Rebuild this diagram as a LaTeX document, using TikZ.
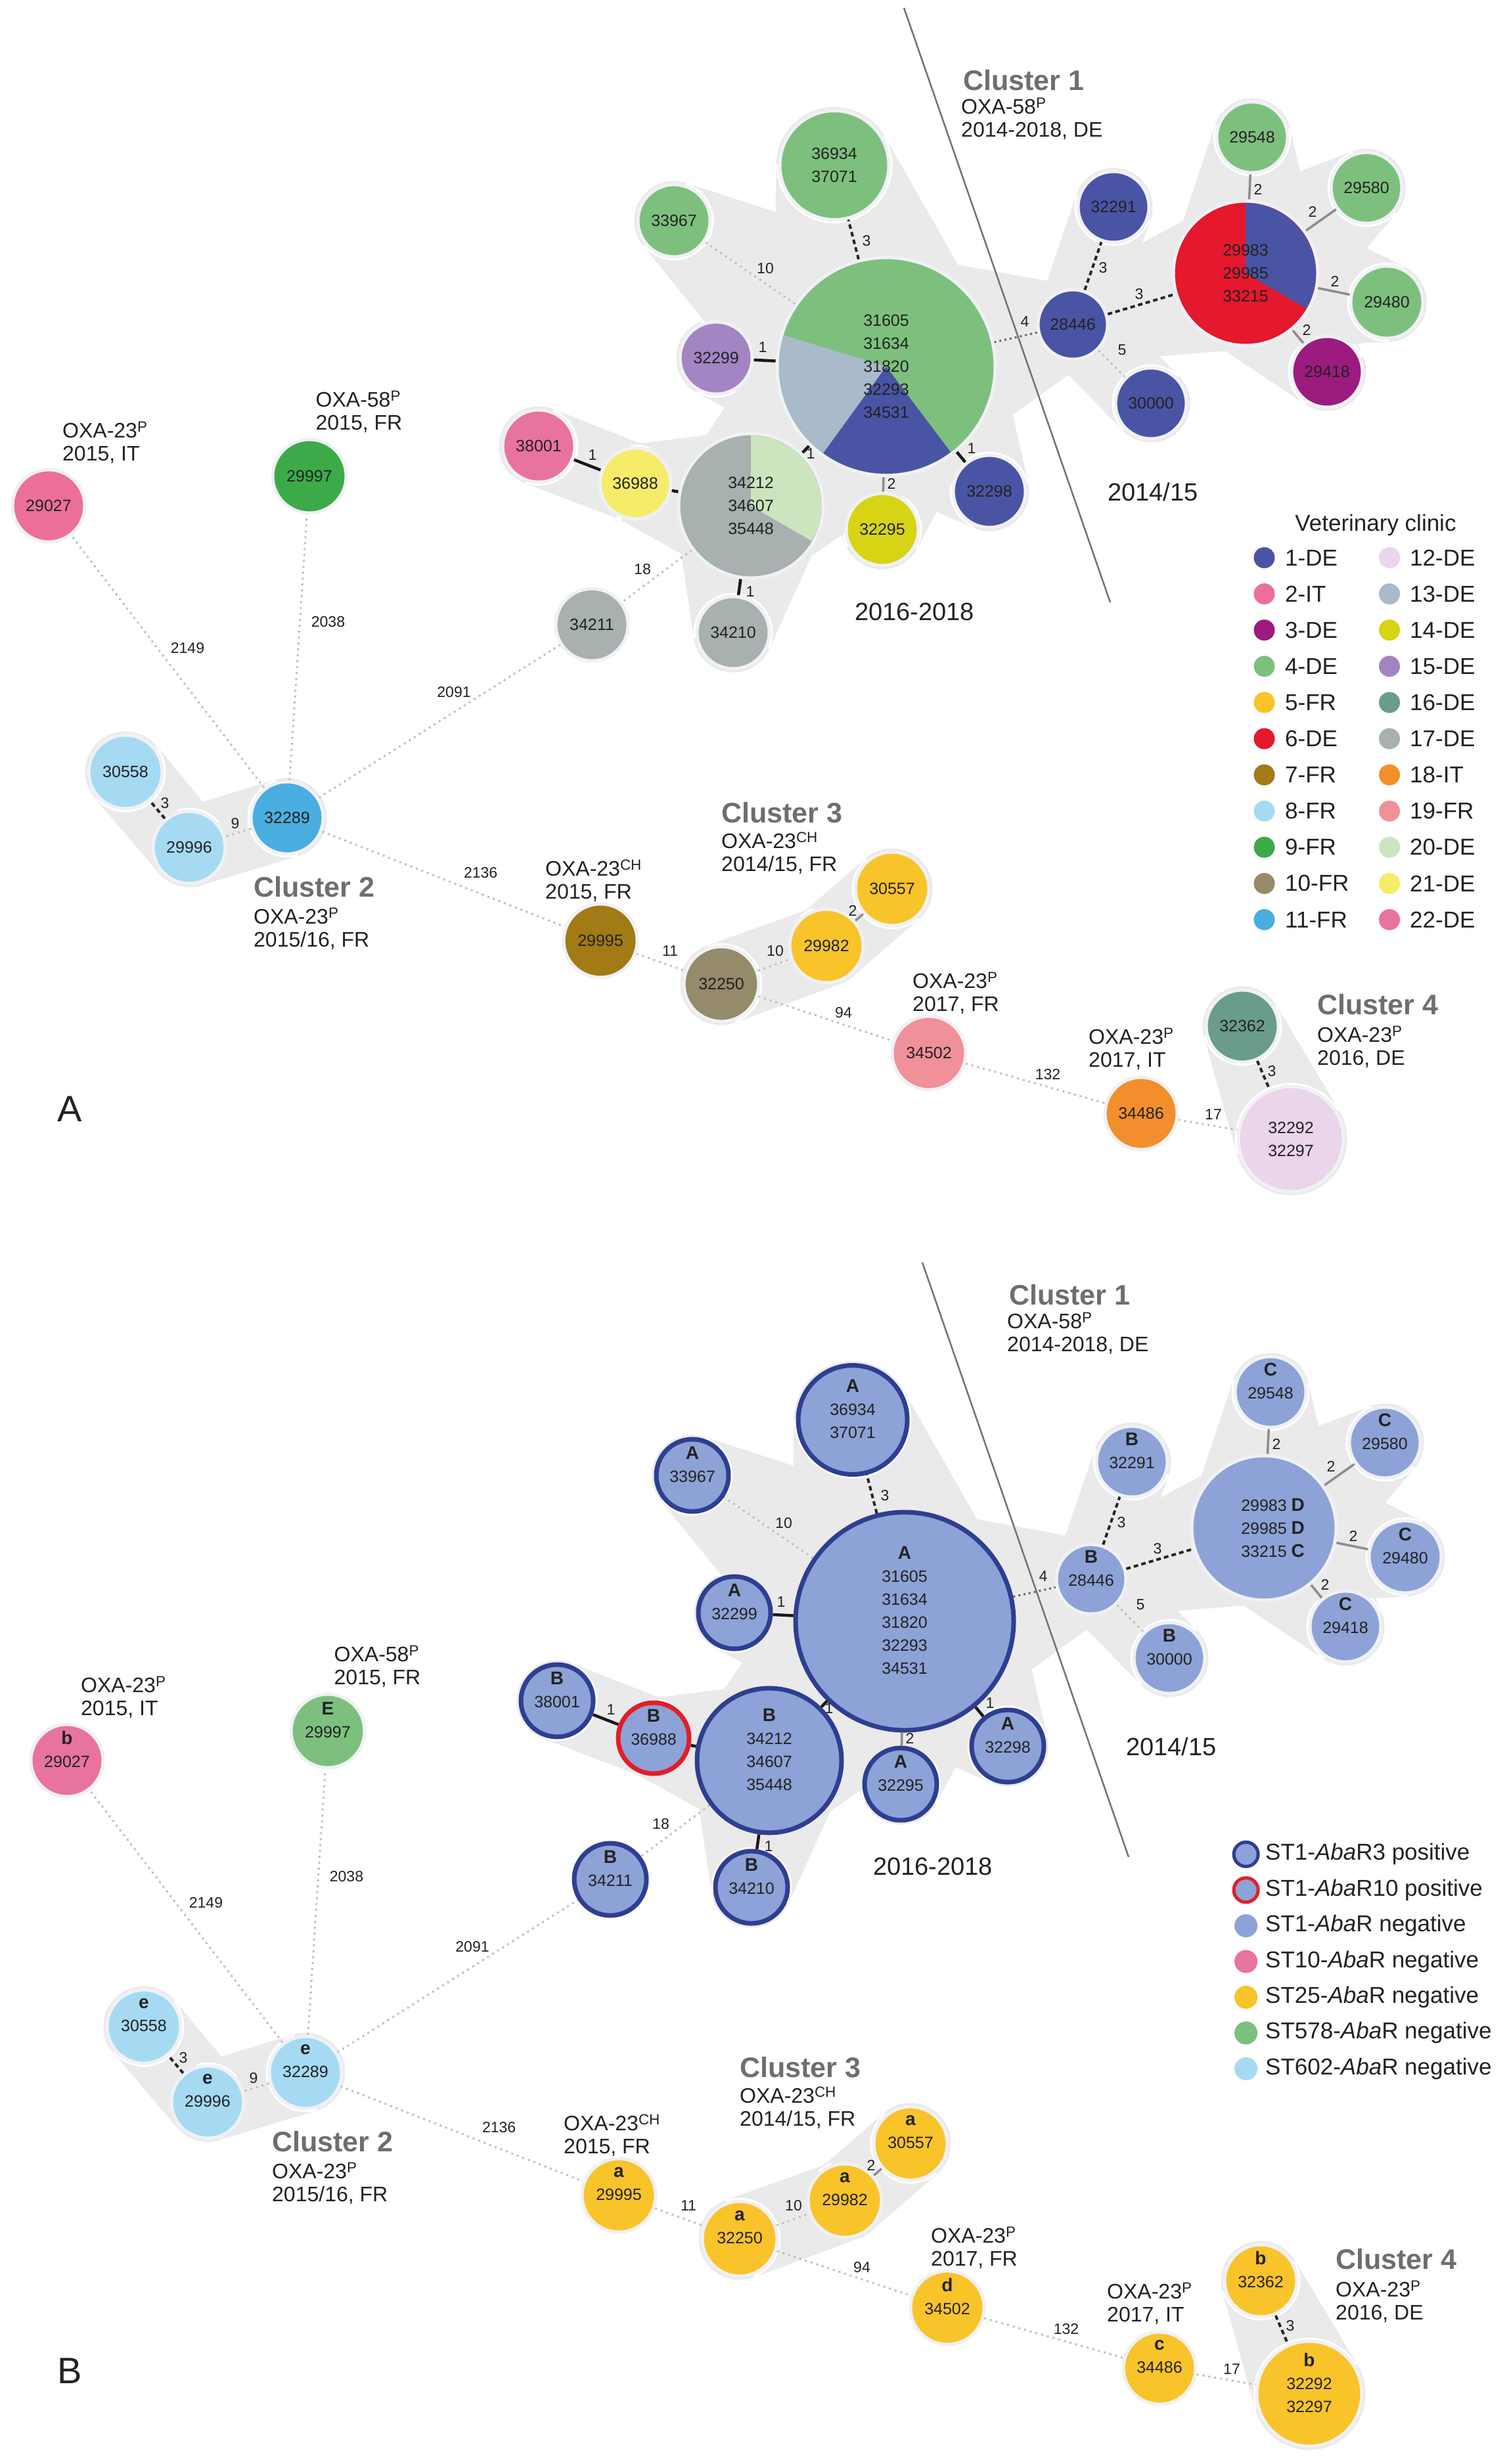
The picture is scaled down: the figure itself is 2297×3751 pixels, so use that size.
\documentclass[tikz,border=0pt]{standalone}
\usepackage{fontspec}
\setmainfont{Liberation Sans}
\usetikzlibrary{calc}
\pgfdeclarelayer{bg}
\pgfdeclarelayer{hull}
\pgfdeclarelayer{edges}
\pgfdeclarelayer{disks}
\pgfdeclarelayer{pies}
\pgfsetlayers{bg,hull,edges,disks,pies,main}

\definecolor{c1}{RGB}{74,84,165}
\definecolor{c2}{RGB}{236,111,154}
\definecolor{c3}{RGB}{155,27,127}
\definecolor{c4}{RGB}{125,192,126}
\definecolor{c5}{RGB}{249,195,42}
\definecolor{c6}{RGB}{229,24,45}
\definecolor{c7}{RGB}{162,122,22}
\definecolor{c8}{RGB}{166,218,243}
\definecolor{c9}{RGB}{61,170,74}
\definecolor{c10}{RGB}{149,138,106}
\definecolor{c11}{RGB}{74,174,224}
\definecolor{c12}{RGB}{234,213,234}
\definecolor{c13}{RGB}{169,186,203}
\definecolor{c14}{RGB}{214,212,20}
\definecolor{c15}{RGB}{162,133,194}
\definecolor{c16}{RGB}{106,156,138}
\definecolor{c17}{RGB}{168,176,176}
\definecolor{c18}{RGB}{242,143,44}
\definecolor{c19}{RGB}{240,144,153}
\definecolor{c20}{RGB}{205,229,190}
\definecolor{c21}{RGB}{246,236,106}
\definecolor{c22}{RGB}{232,115,159}
\definecolor{stone}{RGB}{141,162,214}
\definecolor{darkb}{RGB}{46,62,145}
\definecolor{redb}{RGB}{226,30,40}
\definecolor{halo}{RGB}{240,241,245}
\definecolor{hullc}{RGB}{234,234,234}
\definecolor{clgray}{RGB}{110,110,110}
\definecolor{txt}{RGB}{34,34,34}

\newcommand\numfont{\fontsize{25}{35}\selectfont}
\newcommand\letfont{\fontsize{28}{35}\selectfont\bfseries}
\newcommand\pfx{A}
\newcommand\cldx{0}
\newcommand\cldy{0}
\newcommand\NtxA[2]{#2}
\newcommand\NtxB[2]{{\letfont #1}\\#2}
\newcommand\XletA[1]{}
\newcommand\XletB[1]{\rlap{\ {\letfont #1}}}
\newcommand\Ntx{}
\newcommand\Xlet{}

\tikzset{
 disk/.style={circle, inner sep=0pt, draw=halo, line width=5pt},
 ntext/.style={font=\numfont, align=center, inner sep=0pt, text=txt},
 cancel/.style={},
 el/.style={font=\fontsize{23}{26}\selectfont, inner sep=0pt, text=txt},
 ann/.style={font=\fontsize{32}{35}\selectfont, align=left, inner sep=0pt, anchor=west, text=txt},
 cl/.style={font=\fontsize{43}{48}\selectfont\bfseries, inner sep=0pt, anchor=west, text=clgray},
 yr/.style={font=\fontsize{38}{42}\selectfont, inner sep=0pt, text=txt},
 eone/.style={draw=black!90, line width=4.5pt},
 etwo/.style={draw=black!45, line width=3.5pt},
 ethree/.style={draw=black!85, line width=4pt, dash pattern=on 7pt off 5pt},
 efour/.style={draw=black!60, line width=3pt, dash pattern=on 3pt off 5pt},
 efar/.style={draw=black!25, line width=3pt, dash pattern=on 3pt off 6pt},
 divider/.style={draw=black!55, line width=2.5pt},
 ldot/.style={circle, inner sep=0pt, minimum size=32pt},
 lgt/.style={font=\fontsize{35}{40}\selectfont, inner sep=0pt, anchor=west, text=txt},
 pos3/.style={fill=stone, draw=darkb, line width=7pt},
 pos10/.style={fill=stone, draw=redb, line width=7pt},
 neg1/.style={fill=stone},
}

% node: [text opts]{id}{x}{y}{r}{text}
\newcommand\Nd[6][]{%
 \begin{pgfonlayer}{disks}
  \node[disk, minimum size={2*#5pt}, s#2] (\pfx#2) at (#3,#4) {};
 \end{pgfonlayer}
 \node[ntext, #1] (\pfx#2t) at (\pfx#2.center) {#6};
}
\newcommand\Ed[3]{\begin{pgfonlayer}{edges}\draw[#1] (\pfx#2) -- (\pfx#3);\end{pgfonlayer}}
\newcommand\Lb[4]{\node[el] (\pfx#1) at (#2,#3) {#4};}

\newcommand\hp[2]{%
 \fill[hullc] let \p1=(#1.center), \p2=(#2.center), \p3=(#1.east), \p4=(#2.east),
  \n1={\x3-\x1+3pt}, \n2={\x4-\x2+3pt},
  \n3={veclen(\x2-\x1,\y2-\y1)}, \n4={atan2(\y2-\y1,\x2-\x1)},
  \n5={acos((\n1-\n2)/\n3)} in
  ({\x1+\n1*cos(\n4+\n5)},{\y1+\n1*sin(\n4+\n5)}) --
  ({\x2+\n2*cos(\n4+\n5)},{\y2+\n2*sin(\n4+\n5)}) --
  ({\x2+\n2*cos(\n4-\n5)},{\y2+\n2*sin(\n4-\n5)}) --
  ({\x1+\n1*cos(\n4-\n5)},{\y1+\n1*sin(\n4-\n5)}) -- cycle
  (\p1) circle[radius=\n1] (\p2) circle[radius=\n2];}

\newcommand\network{%
 \draw[divider] (1376,12) -- (1690,917);
 \Nd{31605}{1349}{558}{166}{\Ntx{A}{31605\\31634\\31820\\32293\\34531}}
 \Nd{36934}{1270}{251.5}{83}{\Ntx{A}{36934\\37071}}
 \Nd{33967}{1026}{336}{55}{\Ntx{A}{33967}}
 \Nd{32299}{1090}{545}{55}{\Ntx{A}{32299}}
 \Nd{38001}{820}{679}{55}{\Ntx{B}{38001}}
 \Nd{36988}{967}{736}{54}{\Ntx{B}{36988}}
 \Nd{34212}{1143}{770}{110}{\Ntx{B}{34212\\34607\\35448}}
 \Nd{32295}{1343}{806}{55}{\Ntx{A}{32295}}
 \Nd{32298}{1506}{748}{55}{\Ntx{A}{32298}}
 \Nd{34211}{901}{951}{55}{\Ntx{B}{34211}}
 \Nd{34210}{1116}{963}{55}{\Ntx{B}{34210}}
 \Nd{32291}{1695}{315}{54}{\Ntx{B}{32291}}
 \Nd{28446}{1633}{494}{53}{\Ntx{B}{28446}}
 \Nd{30000}{1752}{614}{54}{\Ntx{B}{30000}}
 \Nd[cancel]{29983}{1896}{416}{110}{29983\Xlet{D}\\29985\Xlet{D}\\33215\Xlet{C}}
 \Nd{29548}{1906}{209}{54}{\Ntx{C}{29548}}
 \Nd{29580}{2080}{286}{54}{\Ntx{C}{29580}}
 \Nd{29480}{2111}{460}{55}{\Ntx{C}{29480}}
 \Nd{29418}{2020}{566}{54}{\Ntx{C}{29418}}
 \Nd{29027}{74}{770}{55}{\Ntx{b}{29027}}
 \Nd{29997}{471}{725}{56}{\Ntx{E}{29997}}
 \Nd{32289}{437}{1245}{55}{\Ntx{e}{32289}}
 \Nd{30558}{191}{1175}{56}{\Ntx{e}{30558}}
 \Nd{29996}{288}{1290}{55}{\Ntx{e}{29996}}
 \Nd{29995}{914}{1432}{56}{\Ntx{a}{29995}}
 \Nd{32250}{1098}{1498}{57}{\Ntx{a}{32250}}
 \Nd{29982}{1258}{1440}{56}{\Ntx{a}{29982}}
 \Nd{30557}{1358}{1353}{56}{\Ntx{a}{30557}}
 \Nd{34502}{1414}{1603}{56}{\Ntx{d}{34502}}
 \Nd{34486}{1737}{1695}{55}{\Ntx{c}{34486}}
 \Nd{32362}{1891}{1562}{55}{\Ntx{b}{32362}}
 \Nd{32292}{1965}{1734}{80}{\Ntx{b}{32292\\32297}}
 % edges
 \Ed{ethree}{31605}{36934}
 \Ed{efar}{31605}{33967}
 \Ed{eone}{31605}{32299}
 \Ed{eone}{31605}{34212}
 \Ed{etwo}{31605}{32295}
 \Ed{eone}{31605}{32298}
 \Ed{efour}{31605}{28446}
 \Ed{eone}{34212}{36988}
 \Ed{eone}{36988}{38001}
 \Ed{eone}{34212}{34210}
 \Ed{efar}{34212}{34211}
 \Ed{ethree}{28446}{32291}
 \Ed{ethree}{28446}{29983}
 \Ed{efar}{28446}{30000}
 \Ed{etwo}{29983}{29548}
 \Ed{etwo}{29983}{29580}
 \Ed{etwo}{29983}{29480}
 \Ed{etwo}{29983}{29418}
 \Ed{efar}{32289}{29027}
 \Ed{efar}{32289}{29997}
 \Ed{efar}{32289}{34211}
 \Ed{efar}{32289}{29996}
 \Ed{ethree}{29996}{30558}
 \Ed{efar}{32289}{29995}
 \Ed{efar}{29995}{32250}
 \Ed{efar}{32250}{29982}
 \Ed{etwo}{29982}{30557}
 \Ed{efar}{32250}{34502}
 \Ed{efar}{34502}{34486}
 \Ed{efar}{34486}{32292}
 \Ed{ethree}{32362}{32292}
 % edge labels
 \Lb{l1}{1319}{367}{3}
 \Lb{l2}{1165}{409}{10}
 \Lb{l3}{1161}{529}{1}
 \Lb{l4}{1234}{691}{1}
 \Lb{l5}{1357}{736}{2}
 \Lb{l6}{1479}{683}{1}
 \Lb{l7}{1560}{490}{4}
 \Lb{l8}{902}{693}{1}
 \Lb{l9}{1142}{901}{1}
 \Lb{l10}{978}{867}{18}
 \Lb{l11}{1679}{408}{3}
 \Lb{l12}{1734}{448}{3}
 \Lb{l13}{1708}{533}{5}
 \Lb{l14}{1915}{288}{2}
 \Lb{l15}{1998}{322}{2}
 \Lb{l16}{2032}{428}{2}
 \Lb{l17}{1989}{502}{2}
 \Lb{l18}{285.5}{987}{2149}
 \Lb{l19}{499.5}{947}{2038}
 \Lb{l20}{691}{1054}{2091}
 \Lb{l21}{358}{1253.5}{9}
 \Lb{l22}{251}{1223}{3}
 \Lb{l23}{731.6}{1329}{2136}
 \Lb{l24}{1020}{1448}{11}
 \Lb{l25}{1180}{1448}{10}
 \Lb{l26}{1298}{1386}{2}
 \Lb{l27}{1284}{1542}{94}
 \Lb{l28}{1595}{1636}{132}
 \Lb{l29}{1847}{1697}{17}
 \Lb{l30}{1936}{1631}{3}
 % annotations
 \node[ann] (\pfx n1) at (95,673.5) {OXA-23\textsuperscript{P}\\2015, IT};
 \node[ann] (\pfx n2) at (480.5,626.5) {OXA-58\textsuperscript{P}\\2015, FR};
 \node[ann] (\pfx n3) at (830,1341) {OXA-23\textsuperscript{CH}\\2015, FR};
 \node[ann] (\pfx n4) at (1389,1512) {OXA-23\textsuperscript{P}\\2017, FR};
 \node[ann] (\pfx n5) at (1657,1596.5) {OXA-23\textsuperscript{P}\\2017, IT};
 \node[cl] (\pfx c1) at ({1466+\cldx},{122+\cldy}) {Cluster 1};
 \node[ann] (\pfx c1s) at ({1463+\cldx},{181+\cldy}) {OXA-58\textsuperscript{P}\\2014-2018, DE};
 \node[cl] (\pfx c2) at (386,1350) {Cluster 2};
 \node[ann] (\pfx c2s) at (386,1414) {OXA-23\textsuperscript{P}\\2015/16, FR};
 \node[cl] (\pfx c3) at (1098,1237) {Cluster 3};
 \node[ann] (\pfx c3s) at (1098,1299) {OXA-23\textsuperscript{CH}\\2014/15, FR};
 \node[cl] (\pfx c4) at (2005,1529) {Cluster 4};
 \node[ann] (\pfx c4s) at (2005,1593.5) {OXA-23\textsuperscript{P}\\2016, DE};
 \node[yr] (\pfx y1) at (1392,931) {2016-2018};
 \node[yr] (\pfx y2) at (1755,749) {2014/15};
}

\begin{document}
\begin{tikzpicture}[x=1pt,y=-1pt]
\useasboundingbox (0,0) rectangle (2297,3751);
\begin{pgfonlayer}{bg}
 \fill[white] (0,0) rectangle (2297,3751);
\end{pgfonlayer}

% ---------------- Panel A ----------------
\begin{scope}
 \renewcommand\pfx{A}
 \let\Ntx\NtxA
 \let\Xlet\XletA
 \tikzset{
  s31605/.style={fill=c4}, s36934/.style={fill=c4}, s33967/.style={fill=c4},
  s32299/.style={fill=c15}, s38001/.style={fill=c22}, s36988/.style={fill=c21},
  s34212/.style={fill=c17}, s32295/.style={fill=c14}, s32298/.style={fill=c1},
  s34211/.style={fill=c17}, s34210/.style={fill=c17}, s32291/.style={fill=c1},
  s28446/.style={fill=c1}, s30000/.style={fill=c1}, s29983/.style={fill=c6},
  s29548/.style={fill=c4}, s29580/.style={fill=c4}, s29480/.style={fill=c4},
  s29418/.style={fill=c3}, s29027/.style={fill=c2}, s29997/.style={fill=c9},
  s32289/.style={fill=c11}, s30558/.style={fill=c8}, s29996/.style={fill=c8},
  s29995/.style={fill=c7}, s32250/.style={fill=c10}, s29982/.style={fill=c5},
  s30557/.style={fill=c5}, s34502/.style={fill=c19}, s34486/.style={fill=c18},
  s32362/.style={fill=c16}, s32292/.style={fill=c12}}
 \network
 \begin{pgfonlayer}{pies}
  \fill[c13] (A31605.center) -- ++(163:163pt) arc[start angle=163, end angle=234, radius=163pt] -- cycle;
  \fill[c1] (A31605.center) -- ++(234:163pt) arc[start angle=234, end angle=307, radius=163pt] -- cycle;
  \fill[c20] (A34212.center) -- ++(-30:107pt) arc[start angle=-30, end angle=90, radius=107pt] -- cycle;
  \fill[c1] (A29983.center) -- ++(-30:107pt) arc[start angle=-30, end angle=90, radius=107pt] -- cycle;
 \end{pgfonlayer}
\end{scope}

% ---------------- Panel B ----------------
\begin{scope}[shift={(28,1910)}]
 \renewcommand\pfx{B}
 \renewcommand\cldx{42}
 \renewcommand\cldy{-61}
 \let\Ntx\NtxB
 \let\Xlet\XletB
 \tikzset{ntext/.append style={yshift=17pt}, cancel/.style={yshift=-17pt},
  s31605/.style={pos3}, s36934/.style={pos3}, s33967/.style={pos3},
  s32299/.style={pos3}, s38001/.style={pos3}, s36988/.style={pos10},
  s34212/.style={pos3}, s32295/.style={pos3}, s32298/.style={pos3},
  s34211/.style={pos3}, s34210/.style={pos3}, s32291/.style={neg1},
  s28446/.style={neg1}, s30000/.style={neg1}, s29983/.style={neg1},
  s29548/.style={neg1}, s29580/.style={neg1}, s29480/.style={neg1},
  s29418/.style={neg1}, s29027/.style={fill=c22}, s29997/.style={fill=c4},
  s32289/.style={fill=c8}, s30558/.style={fill=c8}, s29996/.style={fill=c8},
  s29995/.style={fill=c5}, s32250/.style={fill=c5}, s29982/.style={fill=c5},
  s30557/.style={fill=c5}, s34502/.style={fill=c5}, s34486/.style={fill=c5},
  s32362/.style={fill=c5}, s32292/.style={fill=c5}}
 \network
\end{scope}

% ---------------- Hulls ----------------
\begin{pgfonlayer}{hull}
\foreach \q in {A,B}{
 \foreach \a/\b in {31605/36934,31605/33967,31605/32299,31605/34212,31605/32295,31605/32298,
   34212/36988,36988/38001,34212/34210,31605/28446,28446/32291,28446/30000,28446/29983,
   29983/29548,29983/29580,29983/29480,29983/29418,
   30558/29996,29996/32289,32250/29982,29982/30557,32362/32292}{
  \hp{\q\a}{\q\b}
 }
}
\end{pgfonlayer}

% ---------------- Legend A ----------------
\node[font=\fontsize{35}{40}\selectfont, inner sep=0pt, text=txt] (lgA) at (2094,799) {Veterinary clinic};
\foreach \i/\s [count=\k from 0] in {1/DE,2/IT,3/DE,4/DE,5/FR,6/DE,7/FR,8/FR,9/FR,10/FR,11/FR}{
 \node[ldot, fill=c\i] (lda\i) at (1924.5,{849+55.1*\k}) {};
 \node[lgt] (lta\i) at (1956,{849+55.1*\k}) {\i-\s};
}
\foreach \i/\s [count=\k from 0] in {12/DE,13/DE,14/DE,15/DE,16/DE,17/DE,18/IT,19/FR,20/DE,21/DE,22/DE}{
 \node[ldot, fill=c\i] (lda\i) at (2115,{849+55.1*\k}) {};
 \node[lgt] (lta\i) at (2146,{849+55.1*\k}) {\i-\s};
}

% ---------------- Legend B ----------------
\node[circle, inner sep=0pt, minimum size=37pt, fill=stone, draw=darkb, line width=5pt] (ldb1) at (1896.6,2822.8) {};
\node[lgt] (ltb1) at (1926,2822.8) {ST1-\textit{Aba}R3 positive};
\node[circle, inner sep=0pt, minimum size=37pt, fill=stone, draw=redb, line width=5pt] (ldb2) at (1896.6,2877.2) {};
\node[lgt] (ltb2) at (1926,2877.2) {ST1-\textit{Aba}R10 positive};
\node[ldot, minimum size=35pt, fill=stone] (ldb3) at (1896.6,2931.6) {};
\node[lgt] (ltb3) at (1926,2931.6) {ST1-\textit{Aba}R negative};
\node[ldot, minimum size=35pt, fill=c22] (ldb4) at (1896.6,2986) {};
\node[lgt] (ltb4) at (1926,2986) {ST10-\textit{Aba}R negative};
\node[ldot, minimum size=35pt, fill=c5] (ldb5) at (1896.6,3040.4) {};
\node[lgt] (ltb5) at (1926,3040.4) {ST25-\textit{Aba}R negative};
\node[ldot, minimum size=35pt, fill=c4] (ldb6) at (1896.6,3094.8) {};
\node[lgt] (ltb6) at (1926,3094.8) {ST578-\textit{Aba}R negative};
\node[ldot, minimum size=35pt, fill=c8] (ldb7) at (1896.6,3149.2) {};
\node[lgt] (ltb7) at (1926,3149.2) {ST602-\textit{Aba}R negative};

% ---------------- Panel letters ----------------
\node[font=\fontsize{56}{60}\selectfont, inner sep=0pt, text=txt] (pA) at (106.5,1688) {A};
\node[font=\fontsize{56}{60}\selectfont, inner sep=0pt, text=txt] (pB) at (106,3609) {B};
\end{tikzpicture}
\end{document}
